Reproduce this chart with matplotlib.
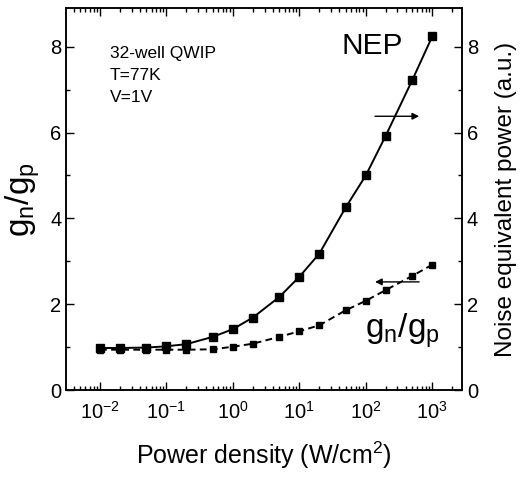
import matplotlib
matplotlib.use('Agg')
import matplotlib.pyplot as plt
from matplotlib.ticker import LogLocator, MultipleLocator, NullFormatter

plt.rcParams['font.family'] = ['Liberation Sans', 'DejaVu Sans']
plt.rcParams['mathtext.fontset'] = 'custom'
plt.rcParams['mathtext.rm'] = 'Liberation Sans'
plt.rcParams['mathtext.it'] = 'Liberation Sans:italic'
plt.rcParams['axes.unicode_minus'] = False

# power density (W/cm^2)
power = [0.01, 0.02, 0.05, 0.1, 0.2, 0.5, 1, 2, 5, 10, 20, 50, 100, 200, 500, 1000]
# noise equivalent power (a.u.), right axis
nep = [0.98, 0.98, 0.99, 1.02, 1.07, 1.24, 1.42, 1.69, 2.17, 2.64, 3.18, 4.26,
       5.0, 5.93, 7.22, 8.24]
# g_n / g_p, left axis
gratio = [0.94, 0.94, 0.94, 0.94, 0.94, 0.95, 1.01, 1.08, 1.24, 1.37, 1.51, 1.86,
          2.08, 2.33, 2.66, 2.92]

xtick_vals = [1e-2, 1e-1, 1, 10, 100, 1000]
xtick_exps = ['-2', '-1', '0', '1', '2', '3']
info_lines = ['32-well QWIP', 'T=77K', 'V=1V']
ymax = 8.9

fig = plt.figure(figsize=(5.21, 4.78), dpi=100)
ax = fig.add_axes([0.127, 0.184, 0.76, 0.799])
ax2 = ax.twinx()

ax.plot(power, gratio, color='black', lw=1.4, ls=(0, (3.5, 2.2)),
        marker='s', ms=4.6, zorder=3)
ax2.plot(power, nep, color='black', lw=1.4, ls='-', marker='s', ms=5.2, zorder=3)

ax.set_xscale('log')
ax.set_xlim(10**-2.51, 10**3.45)
ax.set_ylim(0, ymax)
ax2.set_ylim(0, ymax)

ax.xaxis.set_minor_locator(LogLocator(base=10, subs=range(2, 10), numticks=20))
ax.xaxis.set_minor_formatter(NullFormatter())
ax.set_xticks(xtick_vals)
ax.set_xticklabels([r'10$^{\mathregular{%s}}$' % e for e in xtick_exps])
for a in (ax, ax2):
    a.yaxis.set_major_locator(MultipleLocator(2))
    a.yaxis.set_minor_locator(MultipleLocator(1))

ax.tick_params(which='both', direction='in', top=True, labelsize=14.5, width=1)
ax.tick_params(which='major', length=6)
ax.tick_params(which='minor', length=3)
ax.tick_params(axis='x', pad=8)
ax2.tick_params(which='both', direction='in', labelsize=14.5, width=1)
ax2.tick_params(which='major', length=6)
ax2.tick_params(which='minor', length=3)
for a in (ax, ax2):
    for s in a.spines.values():
        s.set_linewidth(1.1)

ax.set_xlabel(r'Power density (W/cm$^{\mathregular{2}}$)', fontsize=18, labelpad=12)
ax.set_ylabel(r'$\mathregular{g_n/g_p}$', fontsize=24, labelpad=6)
ax2.set_ylabel('Noise equivalent power (a.u.)', fontsize=17.5, labelpad=12)

ax.text(0.11, 0.9, '\n'.join(info_lines), transform=ax.transAxes,
        fontsize=12.5, va='top', ha='left', linespacing=1.55)
ax2.text(0.695, 0.9, 'NEP', transform=ax.transAxes, fontsize=21.5, ha='left', va='center')
ax.text(0.755, 0.155, r'$\mathregular{g_n/g_p}$', transform=ax.transAxes,
        fontsize=24, ha='left', va='center')

ax2.annotate('', xy=(700, 6.38), xytext=(125, 6.38),
             arrowprops=dict(arrowstyle='-|>', color='black', lw=1, mutation_scale=10))
ax.annotate('', xy=(125, 2.52), xytext=(700, 2.52),
            arrowprops=dict(arrowstyle='-|>', color='black', lw=1, mutation_scale=10))

fig.savefig('out.png', dpi=100)
